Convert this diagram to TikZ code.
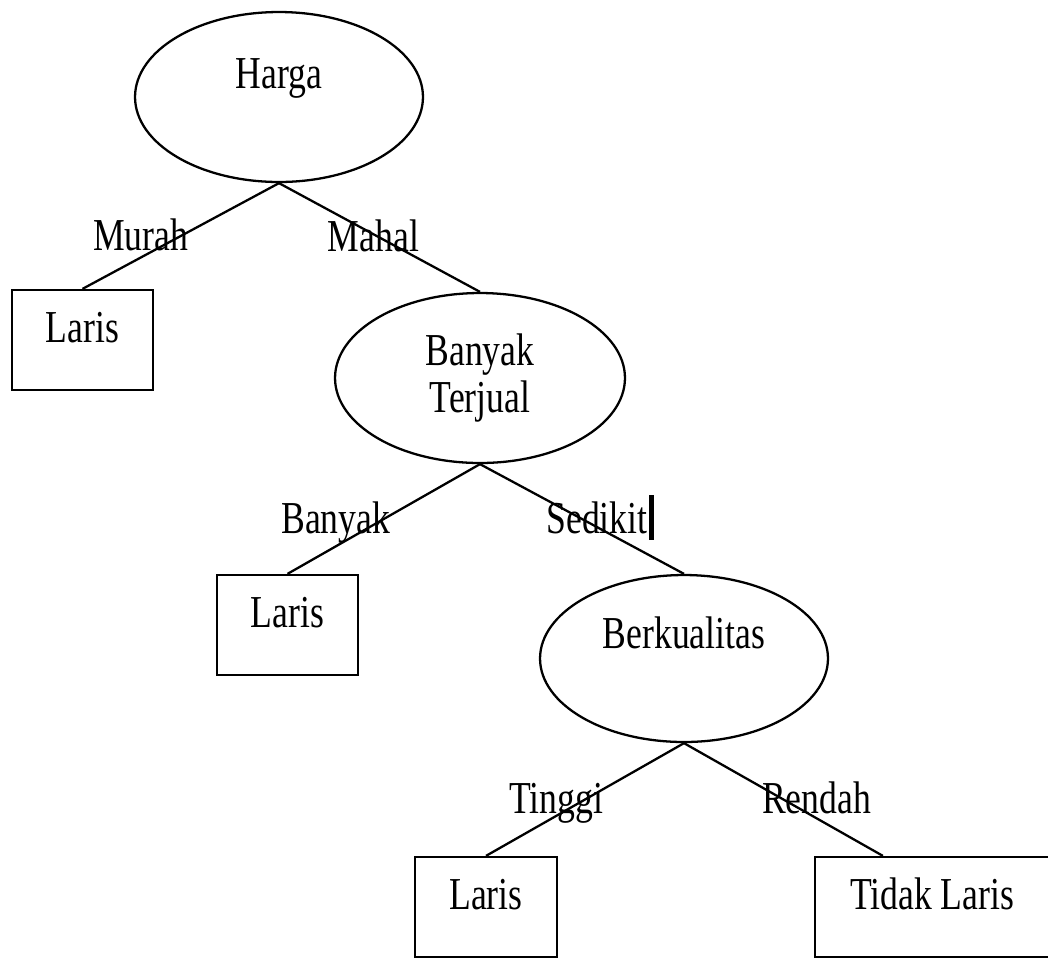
\documentclass[tikz,border=0pt]{standalone}
\usepackage{fontspec}
\setmainfont{Liberation Serif}[FakeStretch=0.78]
\usetikzlibrary{shapes,calc,positioning}
\tikzset{
    semithick,
    decision/.style ={ellipse, draw, line width=1.3pt, inner sep=0pt, minimum width=5.76cm, minimum height=3.4cm, align=center},
    leaf/.style = {rectangle, draw, line width=1.3pt, inner sep=0pt, minimum width=2.82cm, minimum height=2cm, text height=18pt, text depth=15.7pt},
    branch/.style = {draw, line width=1.3pt},
    lbl/.style = {inner sep=0pt, text height=18pt, text depth=2pt},
    caret/.style = {line width=3pt}
}

\begin{document}
\begin{tikzpicture}[x=0.02cm, y=-0.02cm, every node/.style={font=\fontsize{26}{26.7}\selectfont}]
      \clip (0,0) rectangle (1048,958);
      % nodes
      \node[decision, text height=18pt, text depth=28pt] (harga) at (279,97) {Harga};
      \node[leaf] (laris1) at (82.5,340) {Laris};
      \node[decision, minimum width=5.8cm] (terjual) at (480,378) {Banyak\\Terjual};
      \node[leaf] (laris2) at (287.5,625) {Laris};
      \node[decision, minimum height=3.34cm, text height=18pt, text depth=29pt] (kualitas) at (684,658.5) {Berkualitas};
      \node[leaf, minimum width=2.84cm] (laris3) at (486,907) {Laris};
      \node[leaf, minimum width=4.68cm] (tidak) at (932,907) {Tidak Laris};
      \coordinate (tidakTop) at ($(tidak.north west)+(69,0)$);

      % branches
      \path[branch] (harga.south) edge node[lbl, xshift=-0.8cm, name=murah] {Murah} (laris1.north);
      \path[branch] (harga.south) edge node[lbl, xshift=-0.12cm, name=mahal] {Mahal} (terjual.north);
      \path[branch] (terjual.south) edge node[lbl, xshift=-0.96cm, name=banyak] {Banyak} (laris2.north);
      \path[branch] (terjual.south) edge node[lbl, xshift=0.3cm, name=sedikit] {Sedikit} (kualitas.north);
      \path[branch] (kualitas.south) edge node[lbl, xshift=-0.58cm, name=tinggi] {Tinggi} (laris3.north);
      \path[branch] (kualitas.south) edge node[lbl, xshift=0.66cm, name=rendah] {Rendah} (tidakTop);

      \draw[caret] (sedikit.east) ++(3,-24) -- ++(0,45);
\end{tikzpicture}
\end{document}
